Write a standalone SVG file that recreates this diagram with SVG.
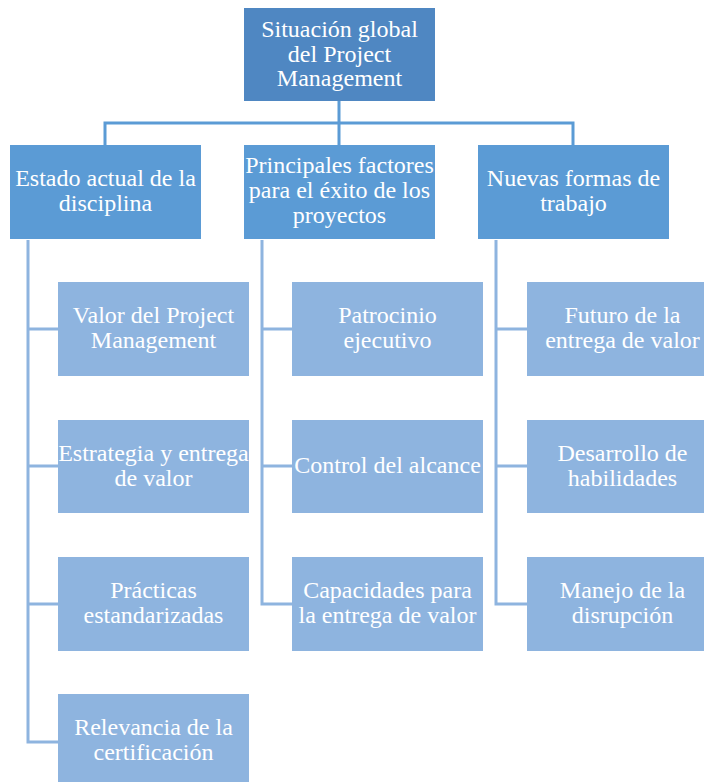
<svg xmlns="http://www.w3.org/2000/svg" width="704" height="782" viewBox="0 0 704 782">
<style>
text{font-family:"Liberation Serif","Times New Roman",serif;font-size:24px;fill:#ffffff;text-anchor:middle}
.top{fill:#4f87c2}
.l2{fill:#5b9bd5}
.leaf{fill:#8eb4df}
.c1{fill:none;stroke:#5b9bd5;stroke-width:3}
.c2{fill:none;stroke:#8eb4df;stroke-width:3}
</style>
<rect width="704" height="782" fill="#ffffff"/>
<g id="connectors">
<path class="c1" d="M339,101V145M105,145V123H573V145"/>
<path class="c2" d="M28,240V742H58M28,329H58M28,466H58M28,604H58"/>
<path class="c2" d="M262,240V604H292M262,329H292M262,466H292"/>
<path class="c2" d="M496,240V604H527M496,329H527M496,466H527"/>
</g>
<g id="n-root"><rect class="top" x="244" y="8" width="191" height="93"/><text x="339.5" y="37">Situación global</text><text x="339.5" y="62">del Project</text><text x="339.5" y="86">Management</text></g>
<g id="n-estado"><rect class="l2" x="10" y="145" width="191" height="94"/><text x="105.5" y="186">Estado actual de la</text><text x="105.5" y="211">disciplina</text></g>
<g id="n-principales"><rect class="l2" x="244" y="145" width="191" height="94"/><text x="339.5" y="173">Principales factores</text><text x="339.5" y="198">para el éxito de los</text><text x="339.5" y="223">proyectos</text></g>
<g id="n-nuevas"><rect class="l2" x="478" y="145" width="191" height="94"/><text x="573.5" y="186">Nuevas formas de</text><text x="573.5" y="211">trabajo</text></g>
<g id="n-valor"><rect class="leaf" x="58" y="282" width="191" height="94"/><text x="153.5" y="323">Valor del Project</text><text x="153.5" y="348">Management</text></g>
<g id="n-estrategia"><rect class="leaf" x="58" y="420" width="191" height="93"/><text x="153.5" y="461">Estrategia y entrega</text><text x="153.5" y="486">de valor</text></g>
<g id="n-practicas"><rect class="leaf" x="58" y="557" width="191" height="94"/><text x="153.5" y="598">Prácticas</text><text x="153.5" y="623">estandarizadas</text></g>
<g id="n-relevancia"><rect class="leaf" x="58" y="694" width="191" height="94"/><text x="153.5" y="735">Relevancia de la</text><text x="153.5" y="760">certificación</text></g>
<g id="n-patrocinio"><rect class="leaf" x="292" y="282" width="191" height="94"/><text x="387.5" y="323">Patrocinio</text><text x="387.5" y="348">ejecutivo</text></g>
<g id="n-control"><rect class="leaf" x="292" y="420" width="191" height="93"/><text x="387.5" y="473">Control del alcance</text></g>
<g id="n-capacidades"><rect class="leaf" x="292" y="557" width="191" height="94"/><text x="387.5" y="598">Capacidades para</text><text x="387.5" y="623">la entrega de valor</text></g>
<g id="n-futuro"><rect class="leaf" x="527" y="282" width="191" height="94"/><text x="622.5" y="323">Futuro de la</text><text x="622.5" y="348">entrega de valor</text></g>
<g id="n-desarrollo"><rect class="leaf" x="527" y="420" width="191" height="93"/><text x="622.5" y="461">Desarrollo de</text><text x="622.5" y="486">habilidades</text></g>
<g id="n-manejo"><rect class="leaf" x="527" y="557" width="191" height="94"/><text x="622.5" y="598">Manejo de la</text><text x="622.5" y="623">disrupción</text></g>
</svg>
